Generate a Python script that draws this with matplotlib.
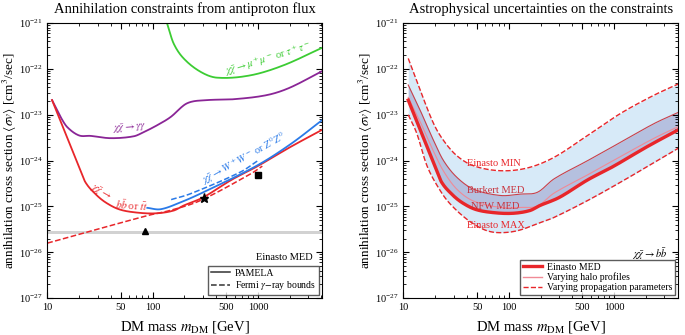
import matplotlib
matplotlib.use("Agg")
import matplotlib.pyplot as plt
import numpy as np

plt.rcParams['font.family'] = ['Liberation Serif', 'DejaVu Serif']
plt.rcParams['mathtext.fontset'] = 'stix'

# --- left panel data (log10 of <sigma v>) ---
green_m = [137, 158, 197, 284, 408, 845, 1750, 4045]
green_sv = [-21.0, -21.44, -21.77, -22.06, -22.19, -22.14, -21.92, -21.54]

purple_m = [11.1, 13.4, 15.5, 20, 25.7, 39.8, 66, 82, 110, 148, 212, 330, 590, 1216, 2000, 4045]
purple_sv = [-22.68, -23.05, -23.27, -23.45, -23.46, -23.51, -23.47, -23.38, -23.23,
             -23.05, -22.75, -22.68, -22.66, -22.57, -22.41, -22.05]

bb_m = [11.1, 14.9, 17.3, 20, 23, 28.7, 35.7, 47.8, 68.7, 107, 158, 197, 303, 560, 975, 2040, 4045]
bb_sv = [-22.68, -23.41, -23.78, -24.14, -24.47, -24.73, -24.91, -25.06, -25.13, -25.15,
         -25.09, -24.98, -24.80, -24.42, -24.13, -23.70, -23.33]

ww_m = [89, 119, 184, 303, 975, 2040, 4045]
ww_sv = [-25.03, -25.06, -24.91, -24.69, -24.11, -23.64, -23.12]

fermi_bb_m = [10, 89, 150, 284, 850, 1100]
fermi_bb_sv = [-25.80, -25.2, -25.08, -24.87, -24.29, -24.12]

fermi_ww_m = [150, 230, 680, 1000]
fermi_ww_sv = [-24.85, -24.72, -24.25, -24.0]

thermal_sv = 2.75e-26
marker_m = [84, 310, 1000]
marker_sv = [2.9e-26, 1.5e-25, 4.9e-25]
marker_kind = ['^', '*', 's']

# --- right panel data ---
burkert_m = [11.1, 14.4, 19.3, 24, 32, 46, 83, 129, 187, 268, 560, 1150, 2400, 4130]
burkert_sv = [-22.35, -22.90, -23.56, -24.0, -24.36, -24.62, -24.76, -24.73, -24.69,
              -24.40, -24.0, -23.60, -23.19, -22.94]

nfw_m = [11.1, 14.4, 19.3, 24, 32, 46, 83, 129, 187, 268, 560, 1150, 2400, 4130]
nfw_sv = [-22.62, -23.15, -23.80, -24.23, -24.62, -24.88, -25.02, -25.02, -24.99,
          -24.71, -24.31, -23.91, -23.51, -23.25]

prop_min_m = [11.1, 14.4, 19.3, 24, 32, 46, 83, 150, 268, 560, 1150, 2400, 4130]
prop_min_sv = [-21.77, -22.46, -23.19, -23.56, -23.89, -24.11, -24.22, -24.16, -23.93,
               -23.45, -22.97, -22.57, -22.32]

prop_max_m = [11.1, 13.4, 16.7, 22.4, 27.9, 40, 57.5, 78, 120, 200, 268, 560, 1150, 2400, 4130]
prop_max_sv = [-23.0, -23.41, -24.11, -24.66, -24.95, -25.28, -25.50, -25.57, -25.53,
               -25.35, -25.24, -24.87, -24.47, -24.04, -23.72]

red = '#e8262a'
blue = '#2a7ae8'
green = '#3ccc33'
purple = '#8a2596'


def smooth(m, s, n=20):
    # Catmull-Rom through the read points, in log-log space
    x = np.log10(np.array(m, float))
    y = np.array(s, float)
    xs, ys = [], []
    for i in range(len(x) - 1):
        i0, i3 = max(i - 1, 0), min(i + 2, len(x) - 1)
        h = x[i + 1] - x[i]
        d1 = (y[i + 1] - y[i0]) / (x[i + 1] - x[i0]) * h
        d2 = (y[i3] - y[i]) / (x[i3] - x[i]) * h
        t = np.linspace(0, 1, n, endpoint=False)
        h00 = 2 * t**3 - 3 * t**2 + 1
        h10 = t**3 - 2 * t**2 + t
        h01 = -2 * t**3 + 3 * t**2
        h11 = t**3 - t**2
        xs.append(x[i] + t * h)
        ys.append(h00 * y[i] + h10 * d1 + h01 * y[i + 1] + h11 * d2)
    xs.append([x[-1]])
    ys.append([y[-1]])
    return 10 ** np.concatenate(xs), np.concatenate(ys)


def curve(ax, m, s, **kw):
    xx, yy = smooth(m, s)
    ax.plot(xx, 10 ** yy, **kw)


def setup(ax, title):
    ax.set_xscale('log')
    ax.set_yscale('log')
    ax.set_xlim(10, 4050)
    ax.set_ylim(1e-27, 1e-21)
    ax.set_xticks([10, 50, 100, 500, 1000])
    ax.set_xticklabels(['10', '50', '100', '500', '1000'])
    ax.set_yticks([1e-27, 1e-26, 1e-25, 1e-24, 1e-23, 1e-22, 1e-21])
    ax.tick_params(which='both', direction='in', top=True, right=True, labelsize=7.5)
    ax.tick_params(which='major', length=4)
    ax.tick_params(which='minor', length=2)
    ax.set_xlabel(r'DM mass $m_{\rm DM}$ [GeV]', fontsize=10.5, labelpad=5)
    ax.set_ylabel(r'annihilation cross section $\langle \sigma v \rangle$ [cm$^3$/sec]',
                  fontsize=9.5, labelpad=0)
    ax.set_title(title, fontsize=10.5, pad=7)


fig = plt.figure(figsize=(6.85, 3.35), dpi=100)
ax1 = fig.add_axes([0.069, 0.11, 0.401, 0.821])
ax2 = fig.add_axes([0.589, 0.11, 0.401, 0.821])

# left panel
setup(ax1, 'Annihilation constraints from antiproton flux')
ax1.axhspan(thermal_sv * 0.92, thermal_sv * 1.08, color='#d2d2d2', lw=0)
curve(ax1, green_m, green_sv, color=green, lw=1.3)
curve(ax1, purple_m, purple_sv, color=purple, lw=1.3)
curve(ax1, bb_m, bb_sv, color=red, lw=1.3)
curve(ax1, ww_m, ww_sv, color=blue, lw=1.3)
curve(ax1, fermi_bb_m, fermi_bb_sv, color=red, lw=1.1, ls='--')
curve(ax1, fermi_ww_m, fermi_ww_sv, color=blue, lw=1.1, ls='--')
for m, s, k in zip(marker_m, marker_sv, marker_kind):
    ax1.plot(m, s, marker=k, color='black', ms=5 if k != '*' else 6.5, ls='none')

ax1.text(1230, 1.6e-22, r'$\chi\bar{\chi} \to \mu^+\mu^-$ or $\tau^+\tau^-$', color=green,
         fontsize=7.5, rotation=17, ha='center', va='center')
ax1.text(60, 5.0e-24, r'$\chi\bar{\chi} \to \gamma\gamma$', color=purple,
         fontsize=7.5, rotation=5, ha='center', va='center')
ax1.text(740, 1.1e-24, r'$\chi\bar{\chi} \to W^+W^-$ or $Z^0Z^0$', color=blue,
         fontsize=7.5, rotation=29, ha='center', va='center')
ax1.text(32, 2.1e-25, r'$\chi\bar{\chi} \to$', color=red,
         fontsize=7.5, rotation=-30, ha='center', va='center')
ax1.text(63, 1.05e-25, r'$b\bar{b}$ or $t\bar{t}$', color=red,
         fontsize=7.5, rotation=-4, ha='center', va='center')
ax1.text(3300, 7.6e-27, 'Einasto MED', fontsize=7.5, ha='right', va='center')
ax1.plot([], [], color='#333333', lw=1.1, label='PAMELA')
ax1.plot([], [], color='#333333', lw=1.1, ls='--', label=r'Fermi $\gamma$$-$ray bounds')
ax1.legend(loc='lower right', fontsize=7, frameon=True, fancybox=False, edgecolor='#333333',
           borderpad=0.25, labelspacing=0.15, handlelength=2.0, handletextpad=0.5,
           borderaxespad=0.35)

# right panel
setup(ax2, 'Astrophysical uncertainties on the constraints')
lo_x, lo_y = smooth(prop_max_m, prop_max_sv)
hi_x, hi_y = smooth(prop_min_m, prop_min_sv)
bb_x, bb_y = smooth(bb_m, bb_sv)
bu_x, bu_y = smooth(burkert_m, burkert_sv)
grid = np.logspace(np.log10(11.1), np.log10(4045), 400)
lg = np.log10(grid)
ax2.fill_between(grid, 10 ** np.interp(lg, np.log10(lo_x), lo_y),
                 10 ** np.interp(lg, np.log10(hi_x), hi_y), color='#d7eaf8', lw=0)
ax2.fill_between(grid, 10 ** np.interp(lg, np.log10(bb_x), bb_y),
                 10 ** np.interp(lg, np.log10(bu_x), bu_y), color='#b5c0df', lw=0)
curve(ax2, prop_min_m, prop_min_sv, color=red, lw=1.0, ls='--')
curve(ax2, prop_max_m, prop_max_sv, color=red, lw=1.0, ls='--')
curve(ax2, burkert_m, burkert_sv, color='#c8404a', lw=0.8)
curve(ax2, nfw_m, nfw_sv, color='#f08a96', lw=0.8)
curve(ax2, bb_m, bb_sv, color=red, lw=2.4)

ax2.text(72, 8.5e-25, 'Einasto MIN', color=red, fontsize=7.5, ha='center', va='center')
ax2.text(75, 2.25e-25, 'Burkert MED', color='#c8303a', fontsize=7.5, ha='center', va='center')
ax2.text(75, 1.0e-25, 'NFW MED', color='#c8303a', fontsize=7.5, ha='center', va='center')
ax2.text(75, 3.8e-26, 'Einasto MAX', color=red, fontsize=7.5, ha='center', va='center')
ax2.text(2150, 9e-27, r'$\chi\bar{\chi} \to b\bar{b}$', fontsize=7.5, ha='center', va='center')
ax2.plot([], [], color=red, lw=2.4, label='Einasto MED')
ax2.plot([], [], color='#f08a96', lw=1.0, label='Varying halo profiles')
ax2.plot([], [], color=red, lw=1.0, ls='--', label='Varying propagation parameters')
ax2.legend(loc='lower right', fontsize=7, frameon=True, fancybox=False, edgecolor='#333333',
           borderpad=0.25, labelspacing=0.1, handlelength=2.0, handletextpad=0.5,
           borderaxespad=0.35)

fig.savefig('out.png', dpi=100)
